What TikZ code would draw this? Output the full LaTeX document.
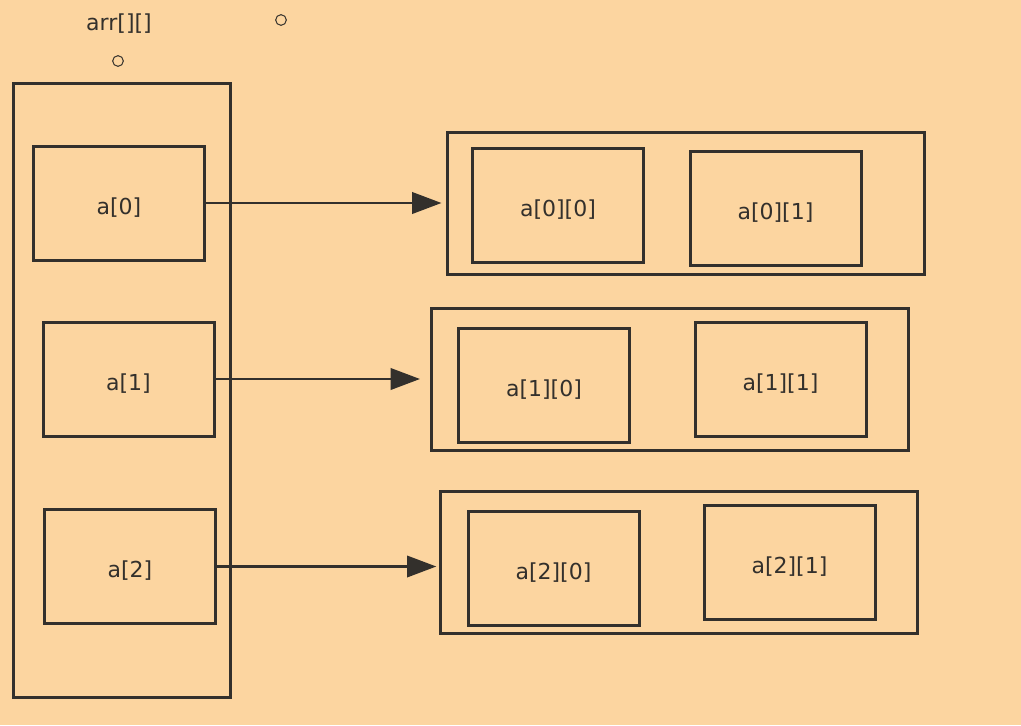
\documentclass[tikz,border=0pt]{standalone}
\usepackage{fontspec}
\setmainfont{DejaVu Sans}
\usetikzlibrary{arrows.meta}
\definecolor{bg}{RGB}{252,213,160}
\definecolor{ink}{RGB}{51,48,44}
\begin{document}
\begin{tikzpicture}[x=0.75pt,y=-0.75pt,
  txt/.style={font=\fontsize{16.5}{18}\selectfont,text=ink},
  box/.style={draw=ink,line width=2.25pt,rectangle,inner sep=0pt,
    minimum width=128.25pt,minimum height=85.5pt,txt,
    text height=1.65em,text depth=0pt},
  grp/.style={draw=ink,line width=2.25pt,rectangle,inner sep=0pt,
    minimum width=357.75pt,minimum height=106.5pt},
  ptr/.style={draw=ink,line width=2pt,-{Triangle[length=22pt,width=16pt]}},
  dot/.style={circle,draw=ink,line width=0.75pt,minimum size=8pt,inner sep=0pt}]
\fill[bg] (0,0) rectangle (1021,725);
\useasboundingbox (0,0) rectangle (1021,725);
% left column
\node[grp,minimum width=162.75pt,minimum height=460.5pt] (outer) at (121.5,390) {};
\node[box] (a0) at (119,203) {a[0]};
\node[box] (a1) at (128.5,379) {a[1]};
\node[box] (a2) at (130,566.5) {a[2]};
\node[txt] (lbl) at (119,24) {arr[][]};
\node[dot] (c1) at (118,61) {};
\node[dot] (c2) at (281,20) {};
% right groups
\node[grp] (g0) at (685.5,203) {};
\node[box] (b00) at (558,205) {a[0][0]};
\node[box] (b01) at (775.5,208) {a[0][1]};
\node[grp] (g1) at (670,379.5) {};
\node[box] (b10) at (544,385.5) {a[1][0]};
\node[box] (b11) at (780.5,379) {a[1][1]};
\node[grp] (g2) at (679,562) {};
\node[box] (b20) at (553.5,568.5) {a[2][0]};
\node[box] (b21) at (789.5,562) {a[2][1]};
% pointers
\draw[ptr,shorten >=3pt] (a0.east) -- (a0.east -| g0.west);
\draw[ptr,shorten >=7.5pt] (a1.east) -- (a1.east -| g1.west);
\draw[ptr,shorten >=2pt] (a2.east) -- (a2.east -| g2.west);
\end{tikzpicture}
\end{document}
